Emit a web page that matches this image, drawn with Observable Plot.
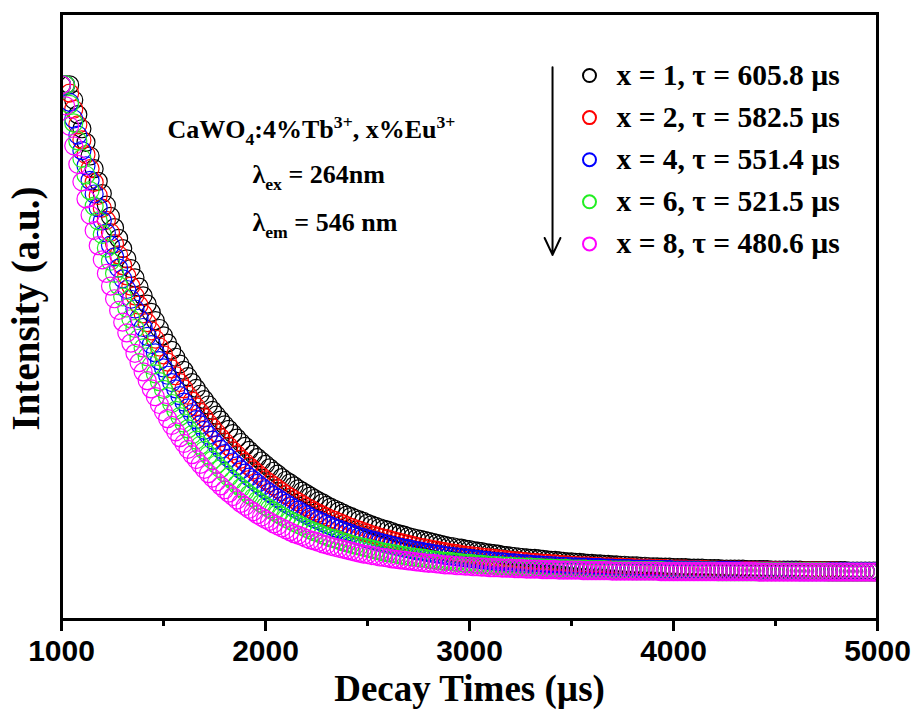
<!DOCTYPE html>
<html><head><meta charset="utf-8">
<script src="https://cdn.jsdelivr.net/npm/d3@7"></script>
<script src="https://cdn.jsdelivr.net/npm/@observablehq/plot@0.6"></script>
<style>body{margin:0;background:#fff}#chart{width:914px;height:716px}</style>
</head><body><div id="chart"></div>
<script>
// Sampling grid of the decay measurement (µs)
const times = d3.range(1000, 5001, 20);

const seriesLabels = ["x = 1, τ = 605.8 µs", "x = 2, τ = 582.5 µs", "x = 4, τ = 551.4 µs", "x = 6, τ = 521.5 µs", "x = 8, τ = 480.6 µs"];

// Normalised intensity (a.u., peak = 1000), one value per time point
const intensityX1 = [1000, 1000,
1000,969,939,910,882, 854,828,802,777,753, 730,707,685,664,643, 623,604,585,567,550, 533,516,500,485,470,
455,441,427,414,401, 389,377,365,354,343, 332,322,312,302,293, 284,275,266,258,250, 242,235,228,221,214,
207,201,194,188,183, 177,171,166,161,156, 151,146,142,137,133, 129,125,121,117,114, 110,107,104,100,97,
94,91,88,86,83, 80,78,76,73,71, 69,67,65,63,61, 59,57,55,53,52, 50,49,47,46,44,
43,42,40,39,38, 37,35,34,33,32, 31,30,29,28,28, 27,26,25,24,24, 23,22,21,21,20,
20,19,18,18,17, 17,16,16,15,15, 14,14,13,13,13, 12,12,11,11,11, 10,10,10,9,9,
9,9,8,8,8, 8,7,7,7,7, 6,6,6,6,6, 6,5,5,5,5, 5,5,4,4,4,
4,4,4,4,4, 3,3,3,3,3, 3,3,3,3,3, 3,2,2,2,2, 2,2,2,2];

const intensityX2 = [1000, 1000,
983,950,918,887,857, 828,800,773,747,722, 697,674,651,629,608, 587,567,548,530,512, 495,478,462,446,431,
417,403,389,376,363, 351,339,328,317,306, 296,286,276,267,258, 249,241,232,225,217, 210,203,196,189,183,
177,171,165,159,154, 149,144,139,134,130, 125,121,117,113,109, 106,102,99,95,92, 89,86,83,80,77,
75,72,70,68,65, 63,61,59,57,55, 53,51,50,48,46, 45,43,42,40,39, 38,36,35,34,33,
32,31,30,29,28, 27,26,25,24,23, 23,22,21,20,20, 19,18,18,17,17, 16,15,15,14,14,
13,13,13,12,12, 11,11,11,10,10, 10,9,9,9,8, 8,8,8,7,7, 7,7,6,6,6,
6,6,5,5,5, 5,5,4,4,4, 4,4,4,4,4, 3,3,3,3,3, 3,3,3,3,3,
2,2,2,2,2, 2,2,2,2,2, 2,2,2,2,1, 1,1,1,1,1, 1,1,1,1];

const intensityX4 = [1000,
1000,964,930,897,865, 834,804,776,748,721, 696,671,647,624,602, 580,560,540,521,502, 484,467,450,434,419,
404,389,376,362,349, 337,325,313,302,291, 281,271,261,252,243, 234,226,218,210,203, 195,189,182,175,169,
163,157,152,146,141, 136,131,127,122,118, 113,109,106,102,98, 95,91,88,85,82, 79,76,73,71,68,
66,64,61,59,57, 55,53,51,49,48, 46,44,43,41,40, 38,37,36,34,33, 32,31,30,29,28,
27,26,25,24,23, 22,21,21,20,19, 19,18,17,17,16, 15,15,14,14,13, 13,12,12,12,11,
11,10,10,10,9, 9,9,8,8,8, 7,7,7,7,6, 6,6,6,6,5, 5,5,5,5,4,
4,4,4,4,4, 4,3,3,3,3, 3,3,3,3,3, 3,2,2,2,2, 2,2,2,2,2,
2,2,2,2,2, 1,1,1,1,1, 1,1,1,1,1, 1,1,1,1,1, 1,1,1,1,1];

const intensityX6 = [1000,
1000,960,922,885,849, 815,783,751,721,693, 665,638,613,588,565, 542,520,500,480,460, 442,424,407,391,375,
360,346,332,319,306, 294,282,271,260,250, 240,230,221,212,204, 195,188,180,173,166, 159,153,147,141,135,
130,125,120,115,110, 106,102,98,94,90, 86,83,80,76,73, 70,68,65,62,60, 57,55,53,51,49,
47,45,43,41,40, 38,37,35,34,32, 31,30,29,28,26, 25,24,23,22,22, 21,20,19,18,18,
17,16,16,15,14, 14,13,13,12,12, 11,11,10,10,10, 9,9,8,8,8, 7,7,7,7,6,
6,6,6,5,5, 5,5,5,4,4, 4,4,4,4,3, 3,3,3,3,3, 3,3,2,2,2,
2,2,2,2,2, 2,2,2,2,2, 1,1,1,1,1, 1,1,1,1,1, 1,1,1,1,1,
1,1,1,1,1, 1,1,1,1,1, 1,1,0,0,0, 0,0,0,0,0, 0,0,0,0,0];

const intensityX8 = [
1000,957,915,875,837, 801,766,733,701,670, 641,613,587,561,537, 513,491,470,449,430, 411,393,376,360,344,
329,315,301,288,276, 264,252,241,231,221, 211,202,193,185,177, 169,162,155,148,141, 135,129,124,118,113,
108,104,99,95,91, 87,83,79,76,73, 69,66,64,61,58, 56,53,51,49,47, 45,43,41,39,37,
36,34,33,31,30, 29,27,26,25,24, 23,22,21,20,19, 18,18,17,16,15, 15,14,13,13,12,
12,11,11,10,10, 9,9,9,8,8, 8,7,7,7,6, 6,6,6,5,5, 5,5,4,4,4,
4,4,4,3,3, 3,3,3,3,3, 2,2,2,2,2, 2,2,2,2,2, 2,2,1,1,1,
1,1,1,1,1, 1,1,1,1,1, 1,1,1,1,1, 1,1,1,1,1, 1,0,0,0,0,
0,0,0,0,0, 0,0,0,0,0, 0,0,0,0,0, 0,0,0,0,0, 0,0,0,0,0,
0];

const seriesValues = [intensityX1, intensityX2, intensityX4, intensityX6, intensityX8];
const majorTicks = [1000, 2000, 3000, 4000, 5000];
const minorTicks = [1500, 2500, 3500, 4500];
const annotationLines = ["CaWO_{4}:4%Tb^{3+}, x%Eu^{3+}", "λ_{ex} = 264nm", "λ_{em} = 546 nm"];

const rows = seriesLabels.flatMap((label, s) =>
  times.map((t, i) => ({t, series: label, v: seriesValues[s][i]})));

const serif = '"Liberation Serif","Times New Roman",serif';
const sans = '"Liberation Sans",Arial,sans-serif';
const legendFont = 29.5, annFont = 26;

const legendMarks = seriesLabels.flatMap((label, i) => [
  Plot.dot([label], {frameAnchor: "top-left", dx: 528, dy: 62 + 42.1 * i, stroke: d => d, r: 6.5, strokeWidth: 2}),
  Plot.text([label], {frameAnchor: "top-left", dx: 555, dy: 71 + 42.1 * i, text: d => d, textAnchor: "start",
    lineAnchor: "bottom", fontSize: legendFont, fontWeight: "bold", fontFamily: serif, fill: "black"})
]);

const annPos = [[106, 124], [191, 169], [191, 217]];
const annMarks = annotationLines.map((s, i) =>
  Plot.text([s], {frameAnchor: "top-left", dx: annPos[i][0], dy: annPos[i][1], text: d => d, textAnchor: "start",
    lineAnchor: "bottom", fontSize: annFont, fontWeight: "bold", fontFamily: serif, fill: "black"}));

const chart = Plot.plot({
  width: 914, height: 716,
  marginLeft: 61, marginRight: 37, marginTop: 13, marginBottom: 97,
  style: {background: "white", overflow: "visible"},
  x: {domain: [1000, 5000], label: null},
  y: {domain: [-97.3, 1146.5], axis: null},
  color: {domain: seriesLabels, range: ["#000000", "#ff0000", "#0000ff", "#22ee22", "#ff00ff"]},
  marks: [
    Plot.dot(rows, {x: "t", y: "v", stroke: "series", r: 9, strokeWidth: 1.2, clip: true}),
    Plot.frame({stroke: "black", strokeWidth: 3}),
    Plot.axisX(majorTicks, {tickSize: 12, tickPadding: 8, strokeWidth: 3, tickFormat: d => String(d),
      fontSize: 30, fontWeight: "bold", fontFamily: sans, label: null}),
    Plot.axisX(minorTicks, {tickSize: 7, strokeWidth: 3, tickFormat: () => "", label: null}),
    Plot.text(["Decay Times (µs)"], {frameAnchor: "bottom", dy: 81, lineAnchor: "bottom", textAnchor: "middle", text: d => d,
      fontSize: 37, fontWeight: "bold", fontFamily: serif}),
    Plot.text(["Intensity (a.u.)"], {frameAnchor: "left", rotate: -90, dx: -23, dy: -8, lineAnchor: "bottom", textAnchor: "middle",
      text: d => d, fontSize: 39, fontWeight: "bold", fontFamily: serif}),
    Plot.arrow([0], {x1: 3407, x2: 3407, y1: 1036, y2: 651, strokeWidth: 2, headLength: 14, headAngle: 50, stroke: "black"}),
    ...legendMarks,
    ...annMarks
  ]
});

// turn _{..} and ^{..} into sub/superscript tspans
d3.select(chart).selectAll("text").each(function() {
  const s = this.textContent;
  if (!/[_^]\{/.test(s)) return;
  const el = d3.select(this);
  el.text(null);
  const fs = annFont, re = /([_^])\{([^}]*)\}/g;
  let last = 0, m, shift = 0;
  const add = (txt, kind) => {
    if (!txt) return;
    const t = el.append("tspan").text(txt);
    let target = 0;
    if (kind === "_") { target = 0.28 * fs; t.attr("font-size", 0.68 * fs); }
    else if (kind === "^") { target = -0.36 * fs; t.attr("font-size", 0.68 * fs); }
    if (target !== shift) t.attr("dy", target - shift);
    shift = target;
  };
  while ((m = re.exec(s))) { add(s.slice(last, m.index), ""); add(m[2], m[1]); last = re.lastIndex; }
  add(s.slice(last), "");
});

document.getElementById("chart").append(chart);
</script></body></html>
